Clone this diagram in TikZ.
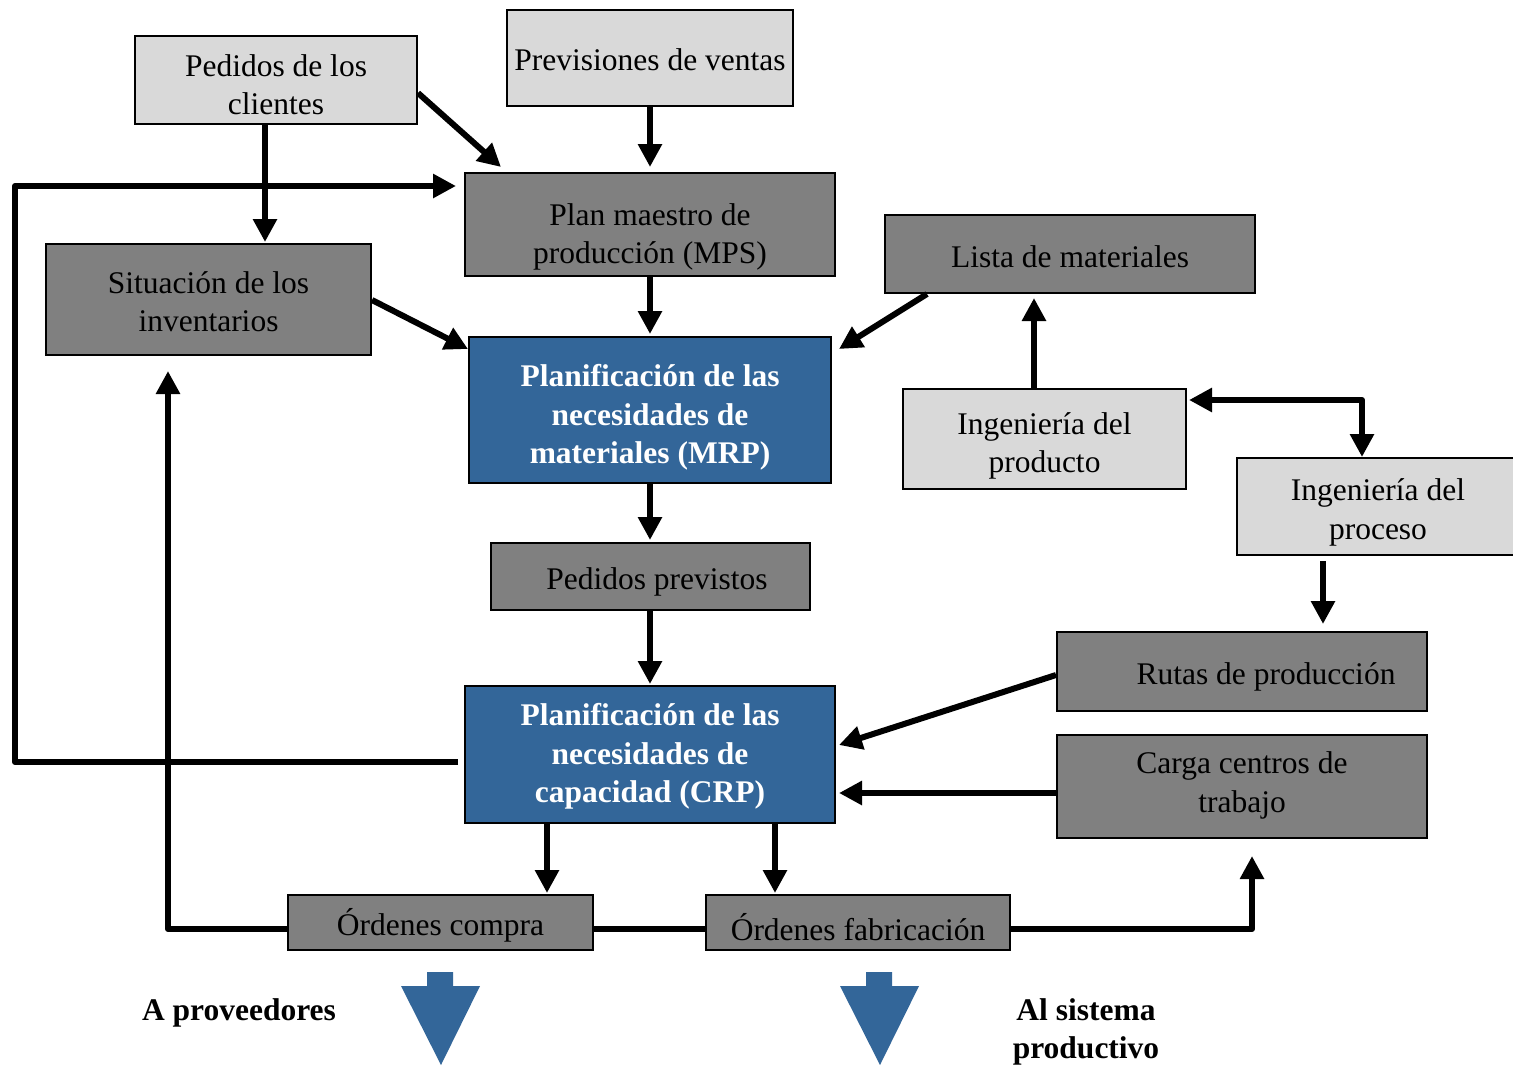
\documentclass[tikz,border=0pt]{standalone}
\usepackage{fontspec}
\setmainfont{Liberation Serif}
\usetikzlibrary{arrows.meta}
\definecolor{lgray}{HTML}{D9D9D9}
\definecolor{dgray}{HTML}{808080}
\definecolor{bblue}{RGB}{51,102,153}
\begin{document}
\begin{tikzpicture}[x=1pt,y=-1pt,
  every node/.style={font=\fontsize{31.5}{38.5}\selectfont, align=center},
  box/.style={draw=black, line width=2pt, rectangle, inner sep=0pt},
  lbox/.style={box, fill=lgray},
  dbox/.style={box, fill=dgray},
  bbox/.style={box, fill=bblue},
  wtxt/.style={text=white, font=\fontsize{31.5}{38.5}\selectfont\bfseries},
  arr/.style={line width=6pt, line join=round, -{Triangle[length=23pt,width=23pt]}},
  dblarr/.style={line width=6pt, line join=round, {Triangle[length=23pt,width=23pt]}-{Triangle[length=23pt,width=23pt]}},
  plain/.style={line width=6pt},
  lbl/.style={font=\fontsize{31.5}{38.5}\selectfont\bfseries}
]
\useasboundingbox (0,0) rectangle (1513,1066);
\fill[white] (0,0) rectangle (1513,1066);

% boxes
\node[lbox, minimum width=282pt, minimum height=88pt,
  label={[name=pedt, yshift=-4.5pt]center:Pedidos de los\\clientes}] (ped) at (276,80) {};
\node[lbox, minimum width=286pt, minimum height=96pt,
  label={[name=prevt, yshift=-2pt]center:Previsiones de ventas}] (prev) at (650,58) {};
\node[dbox, minimum width=370pt, minimum height=103pt,
  label={[name=mpst, yshift=-12.5pt]center:Plan maestro de\\producción (MPS)}] (mps) at (650,224.5) {};
\node[dbox, minimum width=325pt, minimum height=111pt,
  label={[name=sitt, yshift=-2pt]center:Situación de los\\inventarios}] (sit) at (208.5,299.5) {};
\node[dbox, minimum width=370pt, minimum height=78pt,
  label={[name=listat, yshift=-3pt]center:Lista de materiales}] (lista) at (1070,254) {};
\node[bbox, minimum width=362pt, minimum height=146pt,
  label={[name=mrpt, wtxt, yshift=-7.5pt]center:Planificación de las\\necesidades de\\materiales (MRP)}] (mrp) at (650,410) {};
\node[lbox, minimum width=283pt, minimum height=100pt,
  label={[name=ingprodt, yshift=-7pt]center:Ingeniería del\\producto}] (ingprod) at (1044.5,439) {};
\node[lbox, minimum width=282pt, minimum height=97pt,
  label={[name=ingproct, yshift=-6pt]center:Ingeniería del\\proceso}] (ingproc) at (1378,506.5) {};
\node[dbox, minimum width=319pt, minimum height=67pt,
  label={[name=pprevt, xshift=7pt, yshift=-5pt]center:Pedidos previstos}] (pprev) at (650,576.5) {};
\node[dbox, minimum width=370pt, minimum height=79pt,
  label={[name=rutast, xshift=24pt, yshift=-5pt]center:Rutas de producción}] (rutas) at (1242,671.5) {};
\node[bbox, minimum width=370pt, minimum height=137pt,
  label={[name=crpt, wtxt, yshift=-2pt]center:Planificación de las\\necesidades de\\capacidad (CRP)}] (crp) at (650,754.5) {};
\node[dbox, minimum width=370pt, minimum height=103pt,
  label={[name=cargat, yshift=1pt]center:Carga centros de\\trabajo}] (carga) at (1242,786.5) {};
\node[dbox, minimum width=305pt, minimum height=55pt,
  label={[name=ocompt, yshift=-3pt]center:Órdenes compra}] (ocomp) at (440.5,922.5) {};
\node[dbox, minimum width=304pt, minimum height=55pt,
  label={[name=ofabt, yshift=-5pt]center:Órdenes fabricación}] (ofab) at (858,922.5) {};

% connectors
\draw[arr, shorten >=1pt] ([xshift=-11pt]ped.south) -- ([xshift=-11pt]ped.south |- sit.north);
\draw[arr] ([yshift=-13pt]ped.east) -- ([xshift=37pt,yshift=5pt]mps.north west);
\draw[arr, shorten >=5pt] (prev.south) -- (mps.north);
\draw[arr] ([xshift=-6pt,yshift=-7.5pt]crp.west) -- (15,762) |- ([xshift=-8pt,yshift=38.5pt]mps.west);
\draw[arr, shorten >=2pt] (mps.south) -- (mrp.north);
\draw[arr] ([yshift=-0.5pt]sit.east) -- ([yshift=-13pt]mrp.north west);
\draw[arr] ([xshift=43pt]lista.south west) -- ([xshift=7pt,yshift=-13pt]mrp.north east);
\draw[arr, shorten >=4pt] ([xshift=-10.5pt]ingprod.north) -- ([xshift=-10.5pt]ingprod.north |- lista.south);
\draw[dblarr] ([xshift=2pt,yshift=39pt]ingprod.east) -| ([xshift=-16pt]ingproc.north);
\draw[arr, shorten >=7pt] ([xshift=-55pt,yshift=-5pt]ingproc.south) -- ([xshift=-55pt]ingproc.south |- rutas.north);
\draw[arr, shorten >=2pt] (mrp.south) -- (pprev.north);
\draw[arr, shorten >=1pt] (pprev.south) -- (crp.north);
\draw[arr] ([yshift=-3.5pt]rutas.west) -- ([xshift=3pt,yshift=9.5pt]crp.east);
\draw[arr] ([yshift=-6.5pt]carga.west) -- ([xshift=3pt,yshift=-38.5pt]crp.east);
\draw[arr, shorten >=1pt] ([xshift=-103pt]crp.south) -- ([xshift=-103pt]crp.south |- ocomp.north);
\draw[arr, shorten >=1pt] ([xshift=125pt]crp.south) -- ([xshift=125pt]crp.south |- ofab.north);
\draw[arr] ([yshift=-6.5pt]ocomp.west) -| ([xshift=-40.5pt,yshift=-15pt]sit.south);
\draw[plain] ([yshift=-6.5pt]ocomp.east) -- ([yshift=-6.5pt]ofab.west);
\draw[arr] ([yshift=-6.5pt]ofab.east) -| ([xshift=10pt,yshift=-17pt]carga.south);

% big blue arrows
\fill[bblue] (427,972) -- (453,972) -- (453,986) -- (480,986) -- (441,1065) -- (401,986) -- (427,986) -- cycle;
\fill[bblue] (866,972) -- (892,972) -- (892,986) -- (919,986) -- (880,1065) -- (840,986) -- (866,986) -- cycle;

% labels
\node[lbl] (aprov) at (239,1013) {A proveedores};
\node[lbl] (alsis) at (1086,1032) {Al sistema\\productivo};
\end{tikzpicture}
\end{document}
